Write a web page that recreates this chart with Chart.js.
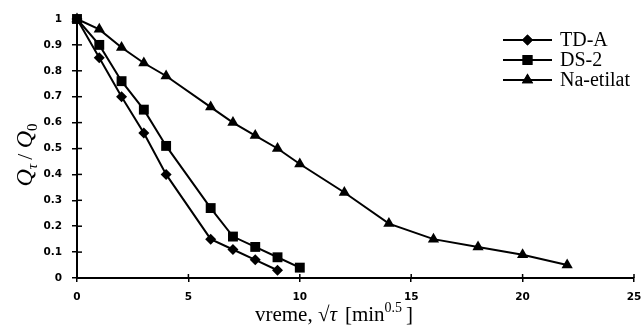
<!DOCTYPE html>
<html>
<head>
<meta charset="utf-8">
<script src="https://cdn.jsdelivr.net/npm/chart.js@4.4.1/dist/chart.umd.min.js"></script>
<style>
  html, body { margin: 0; padding: 0; background: #fff; }
  #wrap { width: 642px; height: 330px; }
</style>
</head>
<body>
<div id="wrap"><canvas id="qChart"></canvas></div>
<script>
// data
var seriesNames = ["TD-A", "DS-2", "Na-etilat"];
var tdaX = [0, 1, 2, 3, 4, 6, 7, 8, 9];
var tdaY = [1, 0.85, 0.70, 0.56, 0.40, 0.15, 0.11, 0.07, 0.03];
var ds2X = [0, 1, 2, 3, 4, 6, 7, 8, 9, 10];
var ds2Y = [1, 0.90, 0.76, 0.65, 0.51, 0.27, 0.16, 0.12, 0.08, 0.04];
var naX = [0, 1, 2, 3, 4, 6, 7, 8, 9, 10, 12, 14, 16, 18, 20, 22];
var naY = [1, 0.96, 0.89, 0.83, 0.78, 0.66, 0.60, 0.55, 0.50, 0.44, 0.33, 0.21, 0.15, 0.12, 0.09, 0.05];

function pts(xs, ys) {
  return xs.map(function (x, i) { return { x: x, y: ys[i] }; });
}

var serif = '"Liberation Serif", "Times New Roman", serif';
var tickFont = { family: '"DejaVu Sans", Verdana, sans-serif', size: 10.5, weight: 'bold' };

// draw a run of text pieces one after another
function drawRun(ctx, parts, x, y) {
  parts.forEach(function (p) {
    ctx.font = p.font;
    ctx.fillText(p.t, x, y + (p.dy || 0));
    x += ctx.measureText(p.t).width + (p.gap || 0);
  });
}
function runWidth(ctx, parts) {
  var w = 0;
  parts.forEach(function (p) { ctx.font = p.font; w += ctx.measureText(p.t).width + (p.gap || 0); });
  return w;
}

var extras = {
  id: 'extras',
  afterDraw: function (chart) {
    var ctx = chart.ctx, xs = chart.scales.x, ys = chart.scales.y;
    ctx.save();
    ctx.strokeStyle = '#000';
    ctx.fillStyle = '#000';
    ctx.lineWidth = 1.5;
    // inner half of the tick marks, so they cross the axes
    ys.ticks.forEach(function (t) {
      var py = ys.getPixelForValue(t.value);
      ctx.beginPath(); ctx.moveTo(xs.left, py); ctx.lineTo(xs.left + 5, py); ctx.stroke();
    });
    xs.ticks.forEach(function (t) {
      var px = xs.getPixelForValue(t.value);
      ctx.beginPath(); ctx.moveTo(px, ys.bottom); ctx.lineTo(px, ys.bottom - 4); ctx.stroke();
    });

    // x title
    ctx.textBaseline = 'alphabetic';
    var xt = [
      { t: 'vreme, ', font: '21px ' + serif },
      { t: '\u221A', font: '21px ' + serif },
      { t: '\u03C4', font: 'italic 21px ' + serif, gap: 8 },
      { t: '[min', font: '21px ' + serif },
      { t: '0.5', font: '14px ' + serif, dy: -9, gap: 4 },
      { t: ']', font: '21px ' + serif }
    ];
    var w = runWidth(ctx, xt);
    drawRun(ctx, xt, 334 - w / 2, 321);

    // y title, rotated
    ctx.save();
    ctx.translate(32, 155);
    ctx.rotate(-Math.PI / 2);
    var yt = [
      { t: 'Q', font: 'italic 24px ' + serif },
      { t: '\u03C4', font: 'italic 15px ' + serif, dy: 5, gap: 4 },
      { t: '/ ', font: '22px ' + serif },
      { t: 'Q', font: 'italic 24px ' + serif },
      { t: '0', font: '15px ' + serif, dy: 5 }
    ];
    var wy = runWidth(ctx, yt);
    drawRun(ctx, yt, -wy / 2, 0);
    ctx.restore();

    // legend: line + marker + name
    var lx0 = 503, lx1 = 552;
    chart.data.datasets.forEach(function (ds, i) {
      var ly = 40 + i * 20;
      ctx.lineWidth = 2;
      ctx.beginPath(); ctx.moveTo(lx0, ly); ctx.lineTo(lx1, ly); ctx.stroke();
      Chart.helpers.drawPoint(ctx, {
        pointStyle: ds.pointStyle, radius: ds.pointRadius, borderWidth: 0, rotation: 0
      }, (lx0 + lx1) / 2, ly);
      ctx.fill();
      ctx.font = '20px ' + serif;
      ctx.textBaseline = 'middle';
      ctx.fillText(ds.label, 560, ly + 1);
    });
    ctx.restore();
  }
};

var common = {
  borderColor: '#000', backgroundColor: '#000', borderWidth: 2,
  pointBorderWidth: 0, pointBackgroundColor: '#000', tension: 0
};

new Chart(document.getElementById('qChart'), {
  type: 'line',
  data: {
    datasets: [
      Object.assign({ label: seriesNames[0], data: pts(tdaX, tdaY), pointStyle: 'rectRot', pointRadius: 5.5 }, common),
      Object.assign({ label: seriesNames[1], data: pts(ds2X, ds2Y), pointStyle: 'rect', pointRadius: 7 }, common),
      Object.assign({ label: seriesNames[2], data: pts(naX, naY), pointStyle: 'triangle', pointRadius: 6.5 }, common)
    ]
  },
  options: {
    responsive: true,
    maintainAspectRatio: false,
    animation: false,
    clip: false,
    layout: { padding: { left: 0, right: 8, top: 19, bottom: 0 } },
    plugins: { legend: { display: false }, tooltip: { enabled: false } },
    scales: {
      x: {
        type: 'linear', min: 0, max: 25,
        ticks: { stepSize: 5, color: '#000', font: tickFont, padding: 9 },
        grid: { drawOnChartArea: false, color: '#000', lineWidth: 1.5, tickLength: 4 },
        border: { color: '#000', width: 2 },
        afterFit: function (s) { s.height = 52; s.paddingLeft = 0; s.paddingRight = 0; }
      },
      y: {
        min: 0, max: 1,
        ticks: {
          stepSize: 0.1, color: '#000', font: tickFont, padding: 10,
          callback: function (v) { return String(Math.round(v * 10) / 10); }
        },
        grid: { drawOnChartArea: false, color: '#000', lineWidth: 1.5, tickLength: 5 },
        border: { color: '#000', width: 2 },
        afterFit: function (s) { s.width = 77; s.paddingTop = 0; s.paddingBottom = 0; }
      }
    }
  },
  plugins: [extras]
});
</script>
</body>
</html>
